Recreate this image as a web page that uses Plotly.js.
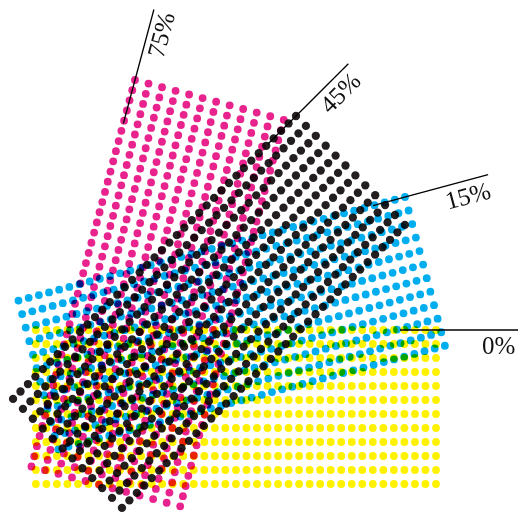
<!DOCTYPE html>
<html><head><meta charset="utf-8">
<script src="https://cdn.plot.ly/plotly-3.0.1.min.js"></script>
<style>
html,body{margin:0;padding:0;background:#fff;}
#chart{width:518px;height:515px;}
#chart .scatterlayer .trace{mix-blend-mode:multiply;}
</style></head><body><div id="chart"></div>
<script>
// ---- data ----
const inks = ['Yellow', 'Cyan', 'Magenta', 'Black'];
const screenAngles = [0, 15, 75, 45];          // degrees
const screenLabels = ['0%', '15%', '75%', '45%'];
const dotsPerRow = [39, 39, 39, 39];
const rowsPerScreen = [12, 12, 12, 12];

// ---- layout / style ----
const inkColors = ['#FFF200', '#00AEEF', '#E9238D', '#231F20'];
const dotSizes = [7.8, 7.8, 7.8, 8.3];
const dotPitch = 10.53;     // along screen angle
const rowPitch = 14.0;      // perpendicular
const rowCorner = [[436, 330], [405, 197], [135, 80], [296, 116]]; // end of first row
const lineSpan = [[-36, 110], [-33, 86], [-45, 73], [-40, 74]];
const labelPos = [[62, 15.5], [61, 15], [50, 13], [48, 14.5]];

const traces = [], shapes = [], annotations = [];
inks.forEach((ink, k) => {
  const a = screenAngles[k] * Math.PI / 180;
  const u = [Math.cos(a), -Math.sin(a)];
  const v = [Math.sin(a), Math.cos(a)];
  const n = dotsPerRow[k];
  const end = rowCorner[k];
  const start = [end[0] - (n - 1) * dotPitch * u[0], end[1] - (n - 1) * dotPitch * u[1]];
  const xs = [], ys = [];
  for (let r = 0; r < rowsPerScreen[k]; r++) {
    for (let c = 0; c < n; c++) {
      xs.push(start[0] + c * dotPitch * u[0] + r * rowPitch * v[0]);
      ys.push(start[1] + c * dotPitch * u[1] + r * rowPitch * v[1]);
    }
  }
  traces.push({
    type: 'scatter', mode: 'markers', name: ink, x: xs, y: ys,
    marker: {size: dotSizes[k], color: inkColors[k], line: {width: 0}},
    hoverinfo: 'skip', cliponaxis: false
  });
  const s = lineSpan[k];
  shapes.push({
    type: 'line', xref: 'x', yref: 'y', layer: 'above',
    x0: end[0] + s[0] * u[0], y0: end[1] + s[0] * u[1],
    x1: end[0] + s[1] * u[0], y1: end[1] + s[1] * u[1],
    line: {color: '#000', width: 1.3}
  });
  const p = labelPos[k];
  annotations.push({
    xref: 'x', yref: 'y', showarrow: false,
    x: end[0] + p[0] * u[0] + p[1] * v[0],
    y: end[1] + p[0] * u[1] + p[1] * v[1],
    text: screenLabels[k], textangle: -screenAngles[k],
    xanchor: 'center', yanchor: 'middle',
    font: {family: "'Liberation Serif', serif", size: 25, color: '#111'}
  });
});

const layout = {
  width: 518, height: 515,
  margin: {l: 0, r: 0, t: 0, b: 0, pad: 0},
  paper_bgcolor: '#fff', plot_bgcolor: '#fff',
  showlegend: false,
  xaxis: {range: [0, 518], visible: false, fixedrange: true},
  yaxis: {range: [515, 0], visible: false, fixedrange: true},
  shapes: shapes, annotations: annotations
};
Plotly.newPlot('chart', traces, layout, {staticPlot: true, displayModeBar: false});
</script></body></html>
